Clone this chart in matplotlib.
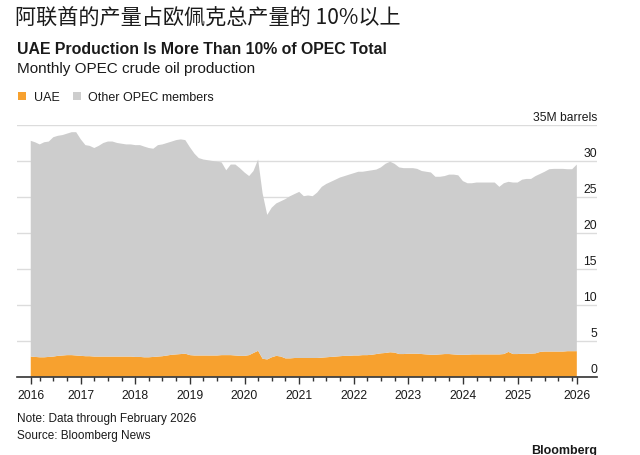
import matplotlib
matplotlib.use("Agg")
import matplotlib.pyplot as plt
from matplotlib.patches import Patch
from matplotlib.transforms import ScaledTranslation
import numpy as np
import pandas as pd

# ---------------- data (million barrels per day) ----------------
months = pd.date_range("2016-02-01", "2026-02-01", freq="MS")

total = [
    32.8, 32.6, 32.3, 32.6, 32.7, 33.3, 33.5, 33.6, 33.8, 34.0, 34.0,          # Feb16-Dec16
    33.0, 32.2, 32.1, 31.8, 32.1, 32.5, 32.7, 32.7, 32.5, 32.4, 32.3, 32.3,    # 2017
    32.2, 32.2, 32.0, 31.8, 31.7, 32.2, 32.3, 32.5, 32.7, 32.9, 33.0, 32.9,    # 2018
    31.9, 31.0, 30.4, 30.2, 30.1, 30.0, 29.9, 29.8, 28.7, 29.5, 29.5, 29.0,    # 2019
    28.4, 27.9, 28.6, 30.2, 25.5, 22.5, 23.5, 24.1, 24.4, 24.7, 25.1, 25.4,    # 2020
    25.7, 25.1, 25.2, 25.1, 25.6, 26.4, 26.8, 27.1, 27.4, 27.7, 27.9, 28.1,    # 2021
    28.3, 28.5, 28.5, 28.6, 28.7, 28.8, 29.1, 29.6, 29.9, 29.6, 29.1, 29.0,    # 2022
    29.0, 29.0, 28.9, 28.6, 28.5, 28.4, 27.8, 27.8, 27.9, 28.1, 28.1, 28.0,    # 2023
    27.2, 26.9, 26.9, 27.0, 27.0, 27.0, 27.0, 27.0, 26.4, 26.9, 27.1, 27.0,    # 2024
    27.0, 27.4, 27.5, 27.5, 27.9, 28.2, 28.5, 28.85, 28.9, 28.9, 28.9, 28.85,  # 2025
    28.85, 29.5,                                                               # Jan26-Feb26
]

uae = [
    2.80, 2.75, 2.70, 2.70, 2.75, 2.80, 2.90, 2.95, 3.00, 3.00, 2.95,
    2.90, 2.85, 2.85, 2.80, 2.80, 2.80, 2.80, 2.80, 2.80, 2.80, 2.80, 2.80,
    2.75, 2.75, 2.70, 2.70, 2.75, 2.80, 2.85, 2.95, 3.05, 3.10, 3.15, 3.20,
    3.00, 2.95, 2.95, 2.95, 2.95, 2.95, 2.95, 3.00, 3.00, 3.00, 2.95, 2.90,
    2.90, 3.00, 3.30, 3.60, 2.50, 2.40, 2.70, 2.90, 2.80, 2.55, 2.55, 2.60,
    2.60, 2.60, 2.60, 2.60, 2.60, 2.65, 2.70, 2.75, 2.80, 2.85, 2.90, 2.90,
    2.95, 2.95, 3.00, 3.00, 3.05, 3.15, 3.25, 3.30, 3.40, 3.35, 3.15, 3.15,
    3.20, 3.20, 3.20, 3.15, 3.10, 3.05, 3.05, 3.10, 3.15, 3.15, 3.10, 3.05,
    3.05, 3.05, 3.10, 3.10, 3.10, 3.10, 3.10, 3.10, 3.10, 3.15, 3.45, 3.15,
    3.15, 3.20, 3.20, 3.20, 3.25, 3.45, 3.50, 3.50, 3.50, 3.50, 3.50, 3.55,
    3.55, 3.55,
]

series_names = ["UAE", "Other OPEC members"]
y_ticks = [0, 5, 10, 15, 20, 25, 30, 35]
y_ticklabels = ["0", "5", "10", "15", "20", "25", "30", "35M barrels"]
year_labels = ["2016", "2017", "2018", "2019", "2020", "2021", "2022",
               "2023", "2024", "2025", "2026"]

title_cn = "阿联酋的产量占欧佩克总产量的 10%以上"
title = "UAE Production Is More Than 10% of OPEC Total"
subtitle = "Monthly OPEC crude oil production"
note = "Note: Data through February 2026"
source = "Source: Bloomberg News"

# ---------------- style ----------------
ORANGE = "#f7a12f"
GRAY = "#cdcdcd"
GRID = "#dcdcdc"
AXIS = "#333333"
TEXT = "#1a1a1a"

plt.rcParams["font.family"] = ["Liberation Sans", "DejaVu Sans"]

W, H = 640, 456
fig = plt.figure(figsize=(W / 100, H / 100), dpi=100)
fig.patch.set_facecolor("white")

left_px, right_px, top_px, bot_px = 17, 597, 126, 377.7
ax = fig.add_axes([left_px / W, 1 - bot_px / H,
                   (right_px - left_px) / W, (bot_px - top_px) / H])

total_arr = np.array(total)
uae_arr = np.array(uae)
other_arr = total_arr - uae_arr

ax.stackplot(months, uae_arr, other_arr, colors=[ORANGE, GRAY],
             linewidth=0, zorder=2)

ax.set_ylim(0, 35)
ax.set_xlim(pd.Timestamp("2015-11-01"), pd.Timestamp("2026-06-16"))

# grid (behind the areas)
ax.set_yticks(y_ticks)
ax.yaxis.grid(True, color=GRID, linewidth=1.0, zorder=0)
ax.set_axisbelow(True)
for s in ["left", "right", "top"]:
    ax.spines[s].set_visible(False)
ax.spines["bottom"].set_color(AXIS)
ax.spines["bottom"].set_linewidth(1.2)
ax.spines["bottom"].set_zorder(5)

# y tick labels on the right, above gridlines
ax.yaxis.tick_right()
ax.tick_params(axis="y", length=0, pad=0, labelsize=8.7, labelcolor=TEXT)
ax.set_yticklabels(y_ticklabels)
offset = ScaledTranslation(0, 5.0 / 100, fig.dpi_scale_trans)
for lab in ax.get_yticklabels():
    lab.set_horizontalalignment("right")
    lab.set_verticalalignment("baseline")
    lab.set_transform(lab.get_transform() + offset)

# x ticks: first and last at the data edges, years in between
major_pos = [months[0]] + [pd.Timestamp(f"{y}-01-01") for y in range(2017, 2026)] + [months[-1]]
ax.set_xticks(major_pos)
ax.set_xticklabels(year_labels)
minor_pos = [d for d in pd.date_range("2016-04-01", "2026-01-01", freq="QS")
             if d.month != 1 or d.year == 2026]
ax.set_xticks(minor_pos, minor=True)
ax.tick_params(axis="x", which="major", length=5, width=1, color=AXIS,
               labelsize=8.7, labelcolor=TEXT, pad=4)
ax.tick_params(axis="x", which="minor", length=2.7, width=1, color=AXIS)

# legend
handles = [Patch(facecolor=ORANGE, edgecolor="none"),
           Patch(facecolor=GRAY, edgecolor="none")]
fig.legend(handles, series_names, loc="upper left",
           bbox_to_anchor=(12 / W, 1 - 86 / H), ncol=2, frameon=False,
           fontsize=9, handlelength=0.65, handleheight=0.65,
           handletextpad=0.6, columnspacing=1.05, borderpad=0,
           labelcolor=TEXT)

# titles
fig.text(15 / W, 1 - 18 / H, title_cn, fontsize=15.2,
         family=["Noto Sans CJK SC", "DejaVu Sans"], va="center", ha="left",
         color=TEXT)
fig.text(17 / W, 1 - 50 / H, title, fontsize=11.4, fontweight="bold",
         va="center", ha="left", color=TEXT)
fig.text(17 / W, 1 - 69 / H, subtitle, fontsize=11,
         va="center", ha="left", color=TEXT)

fig.text(17 / W, 1 - 419.5 / H, note, fontsize=8.5, va="center", ha="left",
         color=TEXT)
fig.text(17 / W, 1 - 435.5 / H, source, fontsize=8.5, va="center", ha="left",
         color=TEXT)
fig.text(597 / W, 1 - 451 / H, "Bloomberg", fontsize=9, fontweight="bold",
         va="center", ha="right", color=TEXT)

fig.savefig("out.png", dpi=100, facecolor="white")
